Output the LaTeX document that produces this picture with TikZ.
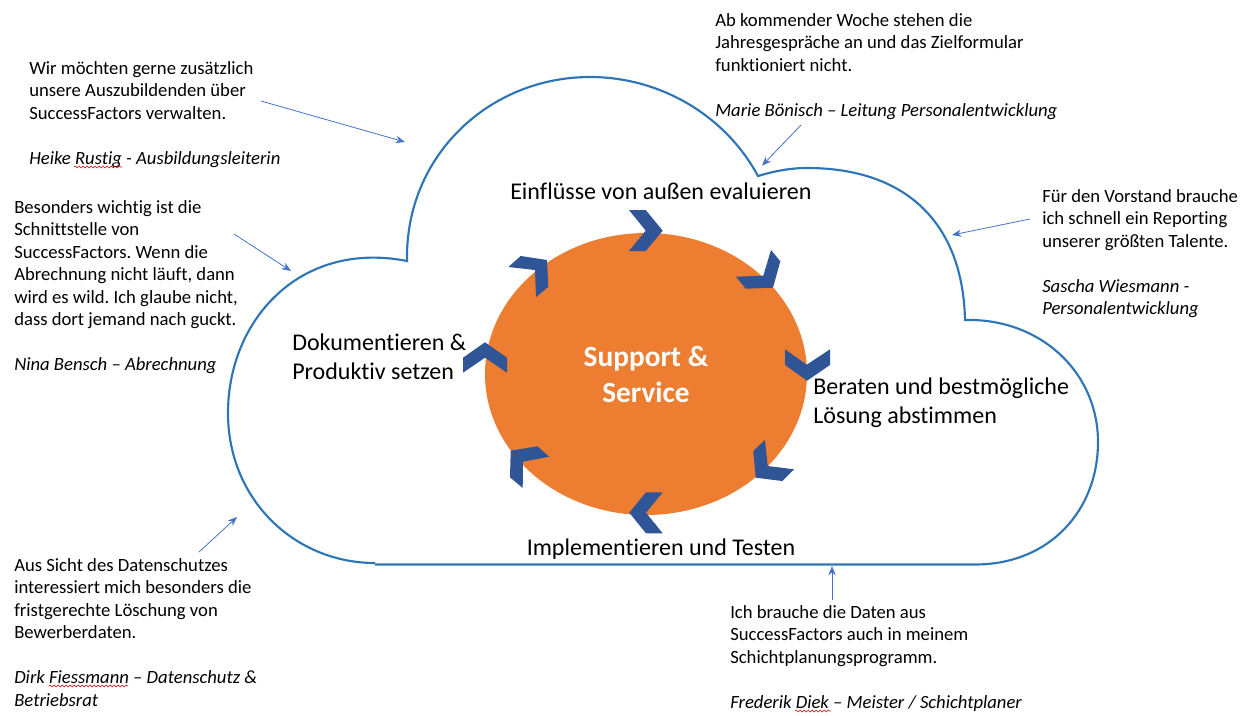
\documentclass[tikz,border=0pt]{standalone}
\usepackage{fontspec}
\setmainfont{Carlito}[Ligatures=NoCommon]
\usetikzlibrary{shapes.geometric, arrows.meta, positioning, decorations.pathmorphing}
\definecolor{cloudblue}{HTML}{2E75B6}
\definecolor{arrowblue}{HTML}{4472C4}
\definecolor{chevronblue}{HTML}{2F5597}
\definecolor{huborange}{HTML}{ED7D31}
\tikzset{
  quote/.style={anchor=north west, inner sep=0pt, align=left, font=\fontsize{14}{16.9}\selectfont},
  phase/.style={inner sep=0pt, align=left, font=\fontsize{18}{21.8}\selectfont},
  pointer/.style={draw=arrowblue, line width=0.6pt, -{Stealth[length=7pt,width=5.5pt]}},
  chevron/.style={fill=chevronblue},
  squiggle/.style={draw=red!80!black, line width=0.4pt, decorate, decoration={snake, segment length=3pt, amplitude=0.7pt}}
}
\begin{document}
\frenchspacing
\begin{tikzpicture}[x=0.75pt, y=-0.75pt]
  \useasboundingbox (0,0) rectangle (1243,715);

  % cloud
  \draw[cloudblue, line width=1.6pt, line join=miter]
    (375,564.5) -- (975,564.5)
    .. controls (1050,564.5) and (1098,510) .. (1098,442)
    .. controls (1098,372) and (1040,318) .. (965,320)
    .. controls (963,225) and (908,168) .. (807,168)
    .. controls (790,168) and (775,171) .. (758,176)
    .. controls (725,115) and (660,77) .. (590,77)
    .. controls (490,77) and (405,155) .. (407,261)
    .. controls (300,240) and (228,320) .. (228,413)
    .. controls (228,500) and (295,563) .. (375,563);

  % middle
  \node (hub) at (646,374) [ellipse, fill=huborange, minimum width=241.5pt, minimum height=211.5pt, inner sep=0pt,
    align=center, text=white, font=\fontsize{22}{27}\selectfont\bfseries] {Support \&\\Service};

  \fill[chevron] (629,210) -- (645.7,210) -- (662.7,230.7) -- (645.7,251) -- (629,251) -- (645.7,230.7) -- cycle;
  \fill[chevron] (771,250) -- (780.3,261.3) -- (773,287.7) -- (745.7,288.7) -- (736,276.7) -- (763.3,275.7) -- cycle;
  \fill[chevron] (785,349.3) -- (806.7,364.7) -- (830,349.3) -- (830,365) -- (807,380.7) -- (785,365) -- cycle;
  \fill[chevron] (765,440) -- (767.7,466) -- (794,469.3) -- (782.3,481) -- (755.7,477.7) -- (753.3,451) -- cycle;
  \fill[chevron] (662.7,492.3) -- (646,512.7) -- (662.7,533.3) -- (646,533.3) -- (629.3,512.7) -- (646,492.3) -- cycle;
  \fill[chevron] (549.3,456.7) -- (523,461.7) -- (522.7,488) -- (510,477.3) -- (510.7,450.7) -- (537.3,446.3) -- cycle;
  \fill[chevron] (507,372.7) -- (485,357.7) -- (463,372.7) -- (463,357.7) -- (485,342.3) -- (507,357.7) -- cycle;
  \fill[chevron] (536,297.3) -- (535,270) -- (508.3,267) -- (520.7,256) -- (547,260) -- (548.3,286.7) -- cycle;

  % phases
  \node (evaluate) at (510,191.5) [phase, anchor=west] {Einflüsse von außen evaluieren};
  \node (advise) at (813,403) [phase, anchor=west] {Beraten und bestmögliche\\Lösung abstimmen};
  \node (implement) at (526.5,549) [phase, anchor=west] {Implementieren und Testen};
  \node (document) at (292,357) [phase, anchor=west] {Dokumentieren \&\\Produktiv setzen};

  % voices
  \node (rustig) at (29,61) [quote] {Wir möchten gerne zusätzlich\\unsere Auszubildenden über\\SuccessFactors verwalten.\\[16.9pt]\textit{Heike Rustig - Ausbildungsleiterin}};
  \node (bensch) at (14,200) [quote] {Besonders wichtig ist die\\Schnittstelle von\\SuccessFactors. Wenn die\\Abrechnung nicht läuft, dann\\wird es wild. Ich glaube nicht,\\dass dort jemand nach guckt.\\[16.9pt]\textit{Nina Bensch – Abrechnung}};
  \node (fiessmann) at (14,558) [quote] {Aus Sicht des Datenschutzes\\interessiert mich besonders die\\fristgerechte Löschung von\\Bewerberdaten.\\[16.9pt]\textit{Dirk Fiessmann – Datenschutz \&}\\\textit{Betriebsrat}};
  \node (boenisch) at (715,13) [quote] {Ab kommender Woche stehen die\\Jahresgespräche an und das Zielformular\\funktioniert nicht.\\[16.9pt]\textit{Marie Bönisch – Leitung Personalentwicklung}};
  \node (wiesmann) at (1042,189) [quote] {Für den Vorstand brauche\\ich schnell ein Reporting\\unserer größten Talente.\\[16.9pt]\textit{Sascha Wiesmann -}\\\textit{Personalentwicklung}};
  \node (diek) at (730,605) [quote] {Ich brauche die Daten aus\\SuccessFactors auch in meinem\\Schichtplanungsprogramm.\\[16.9pt]\textit{Frederik Diek – Meister / Schichtplaner}};

  % spell check marks
  \draw[squiggle] (74,167) -- (122,167);
  \draw[squiggle] (49,686) -- (128,686);
  \draw[squiggle] (795,711) -- (831,711);

  % pointers
  \coordinate (rustigend) at (405,142);
  \coordinate (benschend) at (291,271);
  \coordinate (fiessmannend) at (237,517);
  \coordinate (diekend) at (832,566);
  \coordinate (wiesmannend) at (952,235);
  \coordinate (boenischend) at (762,165.7);
  \coordinate (rustigstart) at (261,101);
  \coordinate (benschstart) at (234,234);
  \coordinate (fiessmannstart) at (199,552);
  \coordinate (diekstart) at (832,600);
  \coordinate (wiesmannstart) at (1030,219);
  \coordinate (boenischstart) at (801,125);
  \draw[pointer] (rustigstart) -- (rustigend);
  \draw[pointer] (benschstart) -- (benschend);
  \draw[pointer] (fiessmannstart) -- (fiessmannend);
  \draw[pointer] (diekstart) -- (diekend);
  \draw[pointer] (wiesmannstart) -- (wiesmannend);
  \draw[pointer] (boenischstart) -- (boenischend);
\end{tikzpicture}
\end{document}
